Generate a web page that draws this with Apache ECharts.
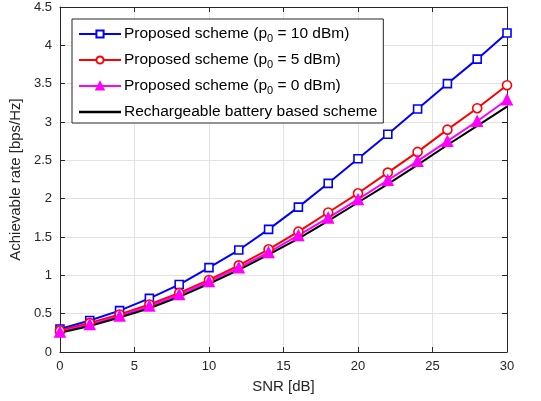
<!DOCTYPE html>
<html>
<head>
<meta charset="utf-8">
<script src="https://cdn.jsdelivr.net/npm/echarts@6/dist/echarts.min.js"></script>
<style>html,body{margin:0;padding:0;background:#fff}#c{width:541px;height:401px}</style>
</head>
<body>
<div id="c"></div>
<script>
const snr = [0, 2, 4, 6, 8, 10, 12, 14, 16, 18, 20, 22, 24, 26, 28, 30];
const p10 = [0.30, 0.41, 0.54, 0.70, 0.88, 1.10, 1.33, 1.60, 1.89, 2.20, 2.52, 2.84, 3.17, 3.50, 3.82, 4.16];
const p5 = [0.28, 0.38, 0.49, 0.62, 0.77, 0.94, 1.13, 1.34, 1.57, 1.82, 2.07, 2.34, 2.61, 2.90, 3.18, 3.48];
const p0 = [0.26, 0.36, 0.47, 0.60, 0.75, 0.92, 1.10, 1.30, 1.52, 1.75, 1.99, 2.24, 2.49, 2.75, 3.01, 3.29];
const battery = [0.25, 0.34, 0.45, 0.57, 0.72, 0.89, 1.07, 1.27, 1.48, 1.71, 1.95, 2.19, 2.44, 2.70, 2.95, 3.20];
const seriesNames = ['Proposed scheme (p0 = 10 dBm)', 'Proposed scheme (p0 = 5 dBm)', 'Proposed scheme (p0 = 0 dBm)', 'Rechargeable battery based scheme'];
const xTitle = 'SNR [dB]';
const yTitle = 'Achievable rate [bps/Hz]';

const pair = arr => snr.map((x, i) => [x, arr[i]]);
const chart = echarts.init(document.getElementById('c'));
const font = 'Arial, "Liberation Sans", sans-serif';
const gridColor = '#e3e3e3';
const axisColor = '#262626';
const labelColor = '#262626';

function mkSeries(name, data, color, symbol, size, filled) {
  return {
    name, type: 'line', data: pair(data),
    symbol, symbolSize: size, showSymbol: symbol !== 'none',
    lineStyle: { color, width: 2 },
    itemStyle: { color: filled ? color : '#fff', borderColor: color, borderWidth: 1.6 },
    z: 5
  };
}

chart.setOption({
  animation: false,
  backgroundColor: '#fff',
  grid: { left: 58, right: 34, top: 7, bottom: 49, show: false },
  xAxis: [{
    type: 'value', min: 0, max: 30, interval: 5,
    name: xTitle, nameLocation: 'middle', nameGap: 27,
    nameTextStyle: { fontFamily: font, fontSize: 15, color: labelColor },
    axisLine: { show: true, onZero: false, lineStyle: { color: axisColor, width: 1 } },
    axisTick: { show: true, inside: true, length: 5, lineStyle: { color: axisColor } },
    axisLabel: { fontFamily: font, fontSize: 13, color: labelColor, margin: 8 },
    splitLine: { show: true, lineStyle: { color: gridColor, width: 1 } }
  }, {
    type: 'value', min: 0, max: 30, interval: 5, position: 'top',
    axisLine: { show: true, onZero: false, lineStyle: { color: axisColor, width: 1 } },
    axisTick: { show: true, inside: true, length: 5, lineStyle: { color: axisColor } },
    axisLabel: { show: false }, splitLine: { show: false }
  }],
  yAxis: [{
    type: 'value', min: 0, max: 4.5, interval: 0.5,
    name: yTitle, nameLocation: 'middle', nameGap: 33,
    nameTextStyle: { fontFamily: font, fontSize: 15, color: labelColor },
    axisLine: { show: true, onZero: false, lineStyle: { color: axisColor, width: 1 } },
    axisTick: { show: true, inside: true, length: 5, lineStyle: { color: axisColor } },
    axisLabel: { fontFamily: font, fontSize: 13, color: labelColor, margin: 8 },
    splitLine: { show: true, lineStyle: { color: gridColor, width: 1 } }
  }, {
    type: 'value', min: 0, max: 4.5, interval: 0.5, position: 'right',
    axisLine: { show: true, onZero: false, lineStyle: { color: axisColor, width: 1 } },
    axisTick: { show: true, inside: true, length: 5, lineStyle: { color: axisColor } },
    axisLabel: { show: false }, splitLine: { show: false }
  }],
  legend: {
    orient: 'vertical', left: 72, top: 19,
    padding: [7, 6, 3, 6], itemGap: 8, itemWidth: 42, itemHeight: 9,
    backgroundColor: '#fff', borderColor: axisColor, borderWidth: 1,
    data: [
      seriesNames[0], seriesNames[1], seriesNames[2],
      { name: seriesNames[3], icon: 'path://M0,0 L42,0 L42,2.5 L0,2.5 Z', itemStyle: { color: '#000', borderWidth: 0 } }
    ],
    formatter: n => n.replace('p0', 'p{s|0}'),
    textStyle: {
      fontFamily: font, fontSize: 15.5, color: '#000', padding: [0, 0, 0, -2],
      rich: { s: { fontFamily: font, fontSize: 11, color: '#000', padding: [9, 0, 0, 0] } }
    }
  },
  series: [
    mkSeries(seriesNames[0], p10, '#0000ff', 'rect', 8, false),
    mkSeries(seriesNames[1], p5, '#ff0000', 'circle', 9, false),
    mkSeries(seriesNames[2], p0, '#ff00ff', 'triangle', 10, true),
    mkSeries(seriesNames[3], battery, '#000000', 'none', 0, false)
  ]
});
</script>
</body>
</html>
